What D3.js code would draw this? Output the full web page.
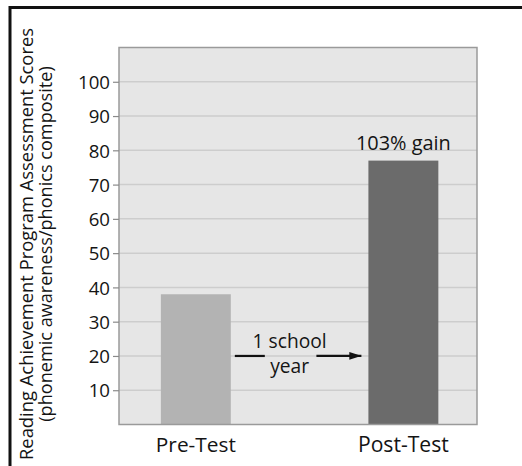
<!DOCTYPE html>
<html>
<head>
<meta charset="utf-8">
<script src="https://cdn.jsdelivr.net/npm/d3@7"></script>
<style>
  html, body { margin: 0; padding: 0; background: #fff; }
  svg { display: block; }
  text { font-family: "Open Sans", "Noto Sans", sans-serif; fill: #141414; }
</style>
</head>
<body>
<svg id="chart" width="522" height="466"></svg>
<script>
// ---- data ----
const categories = ["Pre-Test", "Post-Test"];
const scores = [38, 77];
const yTickValues = [10, 20, 30, 40, 50, 60, 70, 80, 90, 100];
const yTitleLines = ["Reading Achievement Program Assessment Scores", "(phonemic awareness/phonics composite)"];
const gainLabel = "103% gain";
const intervalLines = ["1 school", "year"];

// ---- layout ----
const W = 522, H = 466;
const plot = { left: 119, right: 477, top: 47.5, bottom: 424.5 };
const svg = d3.select("#chart");

// fit a text element's font size so its width matches a target width
function fitWidth(sel, target) {
  let out = null;
  sel.each(function () {
    const len = this.getComputedTextLength();
    const fs = parseFloat(getComputedStyle(this).fontSize);
    out = (fs * target / len);
    this.style.fontSize = out.toFixed(2) + "px";
  });
  return out;
}

const x = d3.scaleBand().domain(categories)
  .range([plot.left, plot.right])
  .paddingInner(0.663).paddingOuter(0.194).align(0.52);
const y = d3.scaleLinear().domain([0, 110]).range([plot.bottom, plot.top]);

// outer frame (top + left)
svg.append("path")
  .attr("d", `M10,${H} L10,7.5 L${W},7.5`)
  .attr("fill", "none").attr("stroke", "#111").attr("stroke-width", 3);

// plot background
svg.append("rect")
  .attr("x", plot.left).attr("y", plot.top)
  .attr("width", plot.right - plot.left).attr("height", plot.bottom - plot.top)
  .attr("fill", "#e6e6e6");

// gridlines
svg.append("g").selectAll("line").data(yTickValues).join("line")
  .attr("x1", plot.left).attr("x2", plot.right)
  .attr("y1", d => y(d)).attr("y2", d => y(d))
  .attr("stroke", "#cdcdcd").attr("stroke-width", 1.5);

// bars
const barColors = ["#b3b3b3", "#6b6b6b"];
svg.append("g").selectAll("rect").data(scores).join("rect")
  .attr("x", (d, i) => x(categories[i]))
  .attr("y", d => y(d))
  .attr("width", x.bandwidth())
  .attr("height", d => y(0) - y(d))
  .attr("fill", (d, i) => barColors[i]);

// plot border
svg.append("rect")
  .attr("x", plot.left).attr("y", plot.top)
  .attr("width", plot.right - plot.left).attr("height", plot.bottom - plot.top)
  .attr("fill", "none").attr("stroke", "#9a9a9a").attr("stroke-width", 1.5);

// y axis
const yAxis = svg.append("g")
  .attr("transform", `translate(${plot.left},0)`)
  .call(d3.axisLeft(y).tickValues(yTickValues).tickSize(6).tickPadding(3));
yAxis.select(".domain").remove();
yAxis.selectAll(".tick line").attr("stroke", "#8a8a8a").attr("stroke-width", 1.2);
const tickTexts = yAxis.selectAll(".tick text")
  .attr("fill", "#141414")
  .style("font-family", "'Open Sans', sans-serif").style("font-size", "18px")
  .attr("dy", "0.36em");
const tickFs = fitWidth(tickTexts.filter(d => d === 100), 32);
tickTexts.style("font-size", tickFs.toFixed(2) + "px");

// category labels
const catLabels = svg.append("g").selectAll("text").data(categories).join("text")
  .attr("x", d => x(d) + x.bandwidth() / 2)
  .attr("y", 452)
  .attr("text-anchor", "middle")
  .style("font-size", "18px")
  .text(d => d);
fitWidth(catLabels.filter((d, i) => i === 0), 80);
fitWidth(catLabels.filter((d, i) => i === 1), 91);

// gain label
const gain = svg.append("text")
  .attr("x", x(categories[1]) + x.bandwidth() / 2)
  .attr("y", y(scores[1]) - 11)
  .attr("text-anchor", "middle")
  .style("font-size", "17px")
  .text(gainLabel);
fitWidth(gain, 95);

// y title
const yTitle = svg.append("g").attr("transform", `translate(0,244) rotate(-90)`);
const titleText = yTitle.selectAll("text").data(yTitleLines).join("text")
  .attr("x", 0)
  .attr("y", (d, i) => 33 + i * 19)
  .attr("text-anchor", "middle")
  .style("font-size", "16px")
  .text(d => d);
fitWidth(titleText.filter((d, i) => i === 0), 432);
fitWidth(titleText.filter((d, i) => i === 1), 356);

// interval annotation between bars
const gapL = x(categories[0]) + x.bandwidth();
const gapR = x(categories[1]);
const yArrow = y(20);
const defs = svg.append("defs");
defs.append("marker").attr("id", "ah")
  .attr("viewBox", "0 0 10 10").attr("refX", 10).attr("refY", 5)
  .attr("markerWidth", 5.5).attr("markerHeight", 5.5).attr("orient", "auto")
  .attr("markerUnits", "strokeWidth")
  .append("path").attr("d", "M0,1.8 L10,5 L0,8.2 Z").attr("fill", "#111");
svg.append("line")
  .attr("x1", gapL + 4).attr("x2", gapL + 34)
  .attr("y1", yArrow).attr("y2", yArrow)
  .attr("stroke", "#111").attr("stroke-width", 2.2);
svg.append("line")
  .attr("x1", gapR - 52).attr("x2", gapR - 7)
  .attr("y1", yArrow).attr("y2", yArrow)
  .attr("stroke", "#111").attr("stroke-width", 2.2)
  .attr("marker-end", "url(#ah)");
const interval = svg.append("g").selectAll("text").data(intervalLines).join("text")
  .attr("x", (gapL + gapR) / 2 - 10)
  .attr("y", (d, i) => yArrow - 8 + i * 25)
  .attr("text-anchor", "middle")
  .style("font-size", "17px")
  .text(d => d);
fitWidth(interval.filter((d, i) => i === 0), 74);
fitWidth(interval.filter((d, i) => i === 1), 39);
</script>
</body>
</html>
